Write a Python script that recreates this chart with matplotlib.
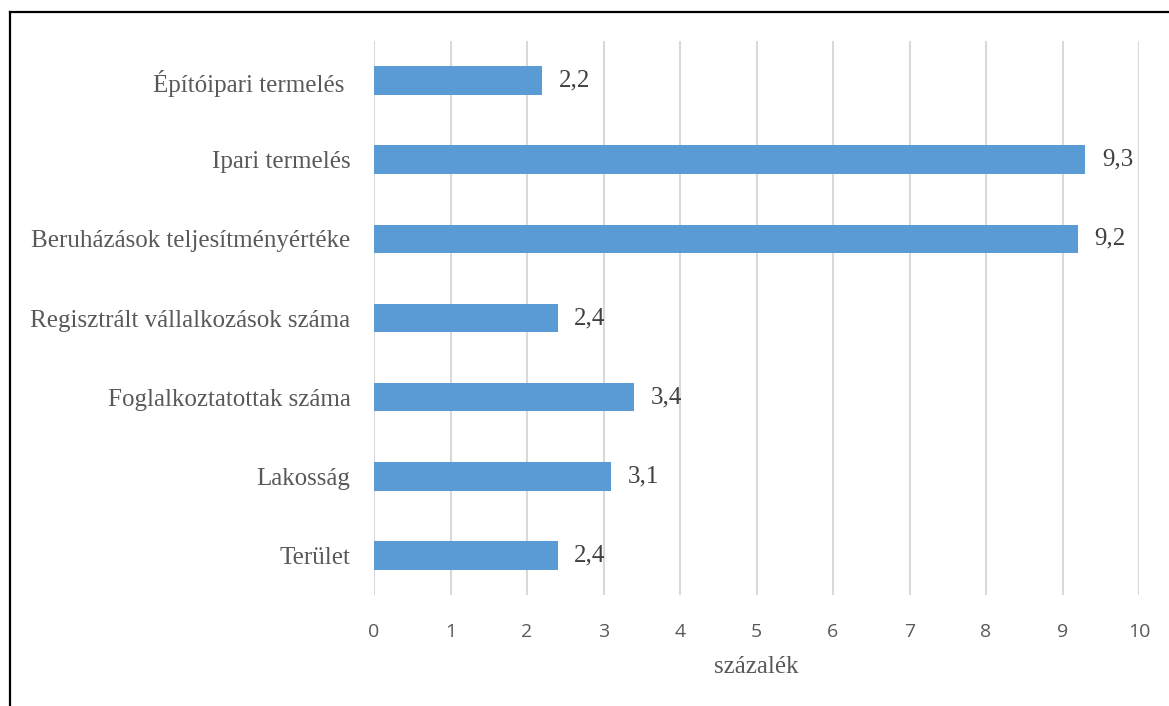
import matplotlib
matplotlib.use("Agg")
import matplotlib.pyplot as plt
from matplotlib.lines import Line2D

categories = ["Építóipari termelés ", "Ipari termelés", "Beruházások teljesítményértéke",
              "Regisztrált vállalkozások száma", "Foglalkoztatottak száma", "Lakosság", "Terület"]
values = [2.2, 9.3, 9.2, 2.4, 3.4, 3.1, 2.4]
xticks = list(range(0, 11))

W, H = 1169, 706
fig = plt.figure(figsize=(W/100, H/100), dpi=100)
ax = fig.add_axes([374/W, 1-595/H, (1139-374)/W, (595-41)/H])

ypos = list(range(len(categories)))
ax.barh(ypos, values, height=0.36, color="#5B9BD5", zorder=3)
ax.set_ylim(len(categories)-0.5, -0.5)
ax.set_xlim(0, 10)
ax.set_xticks(xticks)
ax.set_xticklabels([str(t) for t in xticks], fontfamily="Open Sans", fontsize=14, color="#595959")
ax.set_yticks(ypos)
ax.set_yticklabels(categories, fontfamily="Liberation Serif", fontsize=18, color="#595959")
ax.tick_params(axis="both", length=0)
ax.tick_params(axis="y", pad=17)
ax.tick_params(axis="x", pad=20)
ax.grid(axis="x", color="#d9d9d9", linewidth=1.5, zorder=0)
for s in ax.spines.values():
    s.set_visible(False)

for y, v in zip(ypos, values):
    ax.annotate(f"{v:.1f}".replace(".", ","), (v, y), xytext=(12, 0), textcoords="offset points",
                ha="left", va="center", fontfamily="Liberation Serif", fontsize=18, color="#404040")

ax.set_xlabel("százalék", fontfamily="Liberation Serif", fontsize=18, color="#595959", labelpad=11)

fig.add_artist(Line2D([10/W, 10/W], [0, 1-12/H], color="black", linewidth=1.6, transform=fig.transFigure))
fig.add_artist(Line2D([10/W, 1], [1-12/H, 1-12/H], color="black", linewidth=1.6, transform=fig.transFigure))

fig.savefig("out.png", dpi=100)
